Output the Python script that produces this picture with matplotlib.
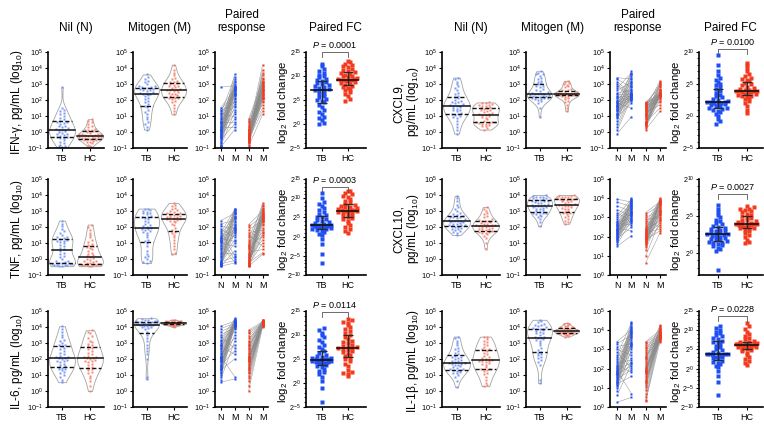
import numpy as np
import matplotlib
matplotlib.use('Agg')
import matplotlib.pyplot as plt
from matplotlib import mlab

plt.rcParams['font.family'] = ['Liberation Sans', 'DejaVu Sans']
plt.rcParams['mathtext.fontset'] = 'custom'
plt.rcParams['mathtext.rm'] = 'Liberation Sans'
plt.rcParams['mathtext.it'] = 'Liberation Sans:italic'
plt.rcParams['mathtext.bf'] = 'Liberation Sans:bold'

# ---- data (log10 pg/mL for nil / mitogen, log2 for fold change) ----
ifng_nil_tb = [-0.95,-0.9,-0.85,-0.8,-0.7,-0.6,-0.5,-0.4,-0.35,-0.3,-0.3,-0.25,-0.2,-0.15,-0.1,-0.05,0.0,0.05,0.1,0.1,
               0.15,0.2,0.25,0.3,0.35,0.4,0.5,0.55,0.6,0.65,0.7,0.8,0.9,1.0,1.1,1.2,1.3,1.4,1.5,2.8]
ifng_mit_tb = [0.15,0.3,0.5,0.65,0.8,0.95,1.1,1.25,1.4,1.55,1.65,1.75,1.85,1.95,2.05,2.15,2.25,2.3,2.35,2.4,
               2.4,2.45,2.5,2.55,2.6,2.65,2.7,2.7,2.75,2.75,2.8,2.8,2.85,2.9,3.0,3.1,3.2,3.3,3.45,3.6]
ifng_nil_hc = [-0.9,-0.8,-0.7,-0.65,-0.6,-0.55,-0.5,-0.5,-0.45,-0.45,-0.4,-0.4,-0.35,-0.35,-0.3,-0.3,-0.3,-0.25,-0.25,
               -0.2,-0.2,-0.15,-0.15,-0.1,-0.1,-0.05,0.0,0.05,0.1,0.1,0.15,0.2,0.3,0.4,0.5,0.6,0.7,0.8]
ifng_mit_hc = [1.1,1.3,1.5,1.7,1.85,1.95,2.05,2.1,2.15,2.15,2.2,2.25,2.3,2.35,2.4,2.45,2.5,2.55,2.6,2.6,
               2.65,2.7,2.75,2.8,2.85,2.9,2.95,3.0,3.05,3.1,3.15,3.2,3.3,3.4,3.55,3.7,3.9,4.2]
ifng_fc_tb = [0.0,0.3,0.8,1.2,1.5,2.0,2.5,3.0,3.5,4.0,4.5,4.8,5.0,5.3,5.6,5.9,6.2,6.5,6.8,7.0,
              7.1,7.3,7.5,7.7,7.9,8.1,8.3,8.5,8.7,8.9,9.1,9.4,9.7,10.0,10.3,10.6,11.0,11.5,12.0,12.6]
ifng_fc_hc = [4.8,5.3,5.8,6.2,6.6,7.0,7.3,7.6,7.8,8.0,8.2,8.4,8.6,8.8,8.9,9.0,9.1,9.2,9.2,9.3,
              9.4,9.5,9.7,9.9,10.1,10.3,10.5,10.7,10.9,11.1,11.3,11.5,11.8,12.0,12.3,12.6,12.9,13.2]

tnf_nil_tb = [-0.45,-0.45,-0.4,-0.4,-0.35,-0.35,-0.3,-0.3,-0.3,-0.25,-0.25,-0.2,-0.15,-0.1,0.0,0.1,0.2,0.3,0.4,0.5,
              0.6,0.7,0.8,0.9,1.0,1.05,1.1,1.15,1.2,1.25,1.3,1.35,1.4,1.5,1.6,1.75,1.9,2.05,2.2,2.4]
tnf_mit_tb = [-0.25,-0.2,-0.1,0.0,0.1,0.2,0.3,0.5,0.8,1.0,1.1,1.2,1.35,1.5,1.6,1.7,1.75,1.8,1.85,1.9,
              1.95,2.0,2.05,2.1,2.2,2.3,2.4,2.5,2.55,2.6,2.65,2.7,2.8,2.85,2.9,2.95,3.0,3.05,3.1,3.15]
tnf_nil_hc = [-0.45,-0.45,-0.4,-0.4,-0.4,-0.35,-0.35,-0.3,-0.3,-0.3,-0.25,-0.25,-0.2,-0.15,-0.1,-0.05,0.0,0.05,0.1,0.2,
              0.25,0.3,0.4,0.5,0.6,0.7,0.75,0.8,0.85,0.95,1.05,1.2,1.35,1.5,1.65,1.8,2.0,2.15]
tnf_mit_hc = [0.3,0.4,0.6,0.8,1.0,1.2,1.4,1.5,1.6,1.7,1.8,1.95,2.1,2.2,2.3,2.35,2.4,2.45,2.5,2.5,
              2.55,2.6,2.6,2.65,2.7,2.75,2.75,2.8,2.85,2.9,2.95,3.0,3.05,3.1,3.2,3.3,3.4,3.5]
tnf_fc_tb = [-7.0,-4.5,-2.0,-0.5,0.3,0.8,1.2,1.5,1.8,2.0,2.1,2.2,2.3,2.4,2.5,2.6,2.7,2.8,2.8,2.9,
             3.0,3.1,3.3,3.5,3.7,4.0,4.3,4.7,5.0,5.2,5.5,6.0,6.5,7.0,7.5,8.0,8.5,9.0,10.0,11.3]
tnf_fc_hc = [1.0,1.5,2.0,2.5,3.0,3.5,4.0,4.5,4.8,5.0,5.3,5.6,5.9,6.1,6.3,6.5,6.6,6.7,6.7,6.8,
             6.9,7.0,7.2,7.4,7.6,7.8,8.0,8.3,8.6,9.0,9.4,9.8,10.2,10.6,11.0,11.4,11.8,12.0]

il6_nil_tb = [0.55,0.7,0.85,1.0,1.1,1.2,1.3,1.35,1.4,1.45,1.5,1.55,1.6,1.7,1.8,1.85,1.9,1.95,2.0,2.05,
              2.05,2.1,2.15,2.2,2.3,2.4,2.5,2.6,2.7,2.8,2.85,2.9,3.0,3.1,3.2,3.35,3.5,3.7,3.9,4.05]
il6_mit_tb = [0.75,0.9,2.0,2.3,2.5,2.7,2.9,3.1,3.3,3.5,3.7,3.85,3.95,4.0,4.02,4.05,4.07,4.1,4.1,4.12,
              4.14,4.15,4.16,4.18,4.2,4.2,4.22,4.24,4.26,4.28,4.3,4.32,4.34,4.36,4.38,4.4,4.42,4.45,4.5,4.55]
il6_nil_hc = [0.0,0.3,0.6,0.8,0.95,1.1,1.2,1.3,1.4,1.45,1.5,1.6,1.7,1.8,1.85,1.9,1.95,2.0,2.05,2.05,
              2.1,2.15,2.2,2.3,2.4,2.5,2.6,2.7,2.8,2.85,2.95,3.05,3.15,3.3,3.45,3.6,3.7,3.8]
il6_mit_hc = [4.0,4.05,4.08,4.1,4.12,4.13,4.14,4.15,4.16,4.17,4.18,4.18,4.19,4.2,4.2,4.21,4.22,4.22,4.23,4.23,
              4.24,4.25,4.25,4.26,4.27,4.28,4.29,4.3,4.31,4.32,4.33,4.34,4.35,4.37,4.39,4.41,4.43,4.45]
il6_fc_tb = [-4.0,-1.0,0.5,1.2,1.8,2.2,2.6,3.0,3.3,3.6,3.8,4.0,4.1,4.2,4.3,4.4,4.5,4.6,4.7,4.8,
             4.9,5.0,5.1,5.2,5.3,5.5,5.7,5.9,6.2,6.6,7.0,7.5,8.0,8.5,9.0,9.5,10.0,10.5,11.0,11.5]
il6_fc_hc = [1.5,1.8,2.0,2.3,2.8,3.5,4.0,4.5,5.0,5.3,5.6,5.9,6.1,6.4,6.6,6.8,7.0,7.2,7.3,7.4,
             7.6,7.8,8.0,8.3,8.5,8.8,9.2,9.6,10.0,10.4,10.8,11.2,11.6,12.0,12.4,12.8,13.1,13.4]

cxcl9_nil_tb = [-0.1,0.1,0.3,0.5,0.7,0.85,0.95,1.0,1.05,1.1,1.15,1.2,1.3,1.35,1.4,1.45,1.5,1.55,1.6,1.65,
                1.65,1.7,1.75,1.8,1.85,1.9,1.95,2.0,2.1,2.2,2.25,2.35,2.45,2.6,2.75,2.9,3.0,3.15,3.3,3.4]
cxcl9_mit_tb = [0.95,1.5,1.8,1.95,2.0,2.05,2.08,2.1,2.12,2.15,2.18,2.2,2.22,2.25,2.27,2.3,2.32,2.35,2.35,2.37,
                2.4,2.45,2.5,2.55,2.6,2.7,2.8,2.85,2.9,3.0,3.05,3.1,3.2,3.3,3.4,3.5,3.6,3.65,3.7,3.8]
cxcl9_nil_hc = [0.15,0.25,0.35,0.4,0.45,0.5,0.5,0.55,0.55,0.6,0.6,0.65,0.7,0.8,0.9,0.95,1.0,1.05,1.05,1.1,
                1.15,1.2,1.25,1.3,1.35,1.4,1.45,1.5,1.5,1.55,1.6,1.65,1.7,1.7,1.75,1.8,1.82,1.85]
cxcl9_mit_hc = [1.3,1.5,1.7,1.85,1.95,2.05,2.15,2.2,2.25,2.28,2.3,2.3,2.32,2.33,2.34,2.35,2.35,2.36,2.36,2.37,
                2.38,2.38,2.4,2.42,2.44,2.46,2.5,2.55,2.6,2.65,2.7,2.8,2.9,2.95,3.0,3.05,3.1,3.2]
cxcl9_fc_tb = [-1.2,-0.8,-0.4,0.0,0.3,0.6,0.8,1.0,1.1,1.2,1.3,1.5,1.6,1.7,1.8,1.9,2.0,2.1,2.15,2.2,
               2.25,2.3,2.5,2.7,2.9,3.1,3.3,3.6,3.9,4.2,4.5,4.8,5.0,5.3,5.6,6.0,6.4,7.0,8.0,9.5]
cxcl9_fc_hc = [0.5,1.0,1.5,2.0,2.3,2.6,2.8,3.0,3.1,3.2,3.3,3.4,3.5,3.6,3.7,3.8,3.85,3.9,3.9,3.95,
               4.0,4.1,4.2,4.4,4.6,4.8,5.0,5.2,5.4,5.6,5.8,6.0,6.3,6.6,7.0,7.5,8.0,8.3]

cxcl10_nil_tb = [1.5,1.6,1.7,1.75,1.8,1.85,1.9,1.95,2.0,2.0,2.05,2.1,2.1,2.15,2.2,2.2,2.25,2.3,2.3,2.35,
                 2.35,2.4,2.4,2.45,2.5,2.55,2.6,2.6,2.65,2.7,2.75,2.8,2.9,3.0,3.1,3.25,3.4,3.6,3.8,3.95]
cxcl10_mit_tb = [2.05,2.3,2.5,2.6,2.7,2.75,2.8,2.85,2.85,2.9,2.95,3.0,3.05,3.1,3.15,3.2,3.25,3.25,3.3,3.3,
                 3.3,3.35,3.4,3.45,3.5,3.5,3.55,3.6,3.6,3.65,3.7,3.7,3.75,3.8,3.8,3.85,3.9,3.9,3.95,4.0]
cxcl10_nil_hc = [0.65,1.0,1.3,1.45,1.55,1.6,1.65,1.7,1.7,1.75,1.8,1.85,1.9,1.9,1.95,2.0,2.0,2.05,2.05,2.1,
                 2.1,2.15,2.2,2.2,2.25,2.3,2.35,2.35,2.4,2.45,2.5,2.6,2.7,2.8,2.9,3.0,3.15,3.25]
cxcl10_mit_hc = [2.2,2.3,2.4,2.5,2.6,2.7,2.8,2.85,2.9,2.95,3.0,3.1,3.15,3.2,3.25,3.3,3.3,3.35,3.35,3.4,
                 3.45,3.5,3.55,3.6,3.65,3.7,3.7,3.72,3.75,3.78,3.8,3.82,3.85,3.88,3.9,3.93,3.96,4.0]
cxcl10_fc_tb = [-2.3,0.3,0.5,0.7,0.9,1.1,1.2,1.3,1.4,1.5,1.6,1.7,1.8,1.9,2.0,2.1,2.2,2.3,2.4,2.5,
                2.5,2.6,2.7,2.8,2.9,3.0,3.1,3.2,3.3,3.5,3.7,3.9,4.1,4.3,4.5,4.8,5.1,5.5,6.0,6.5]
cxcl10_fc_hc = [1.3,1.5,1.8,2.1,2.4,2.7,2.9,3.1,3.2,3.3,3.4,3.5,3.6,3.7,3.75,3.8,3.85,3.9,3.9,3.95,
                4.0,4.1,4.2,4.3,4.4,4.5,4.7,4.9,5.0,5.1,5.3,5.5,5.6,5.8,5.9,6.0,6.2,6.4]

il1b_nil_tb = [0.25,0.6,0.85,1.0,1.1,1.15,1.2,1.25,1.3,1.3,1.35,1.4,1.45,1.5,1.55,1.6,1.65,1.7,1.7,1.75,
               1.75,1.8,1.85,1.9,1.95,2.0,2.05,2.1,2.15,2.2,2.3,2.4,2.5,2.6,2.7,2.85,3.0,3.15,3.3,3.4]
il1b_mit_tb = [0.5,0.7,1.6,1.8,1.95,2.05,2.15,2.25,2.3,2.35,2.45,2.55,2.7,2.85,3.0,3.1,3.2,3.25,3.3,3.3,
               3.35,3.4,3.5,3.6,3.65,3.7,3.75,3.8,3.85,3.9,3.9,3.95,4.0,4.05,4.1,4.15,4.2,4.3,4.4,4.45]
il1b_nil_hc = [0.3,0.35,0.5,0.7,0.9,1.05,1.15,1.25,1.3,1.35,1.4,1.5,1.6,1.7,1.75,1.8,1.85,1.9,1.9,1.95,
               2.0,2.05,2.1,2.2,2.3,2.4,2.5,2.55,2.6,2.65,2.75,2.85,2.95,3.05,3.15,3.25,3.35,3.4]
il1b_mit_hc = [3.4,3.45,3.5,3.52,3.55,3.57,3.6,3.6,3.62,3.64,3.66,3.68,3.7,3.71,3.72,3.73,3.74,3.75,3.75,3.76,
               3.77,3.78,3.8,3.82,3.84,3.86,3.88,3.9,3.92,3.95,3.98,4.0,4.05,4.08,4.12,4.16,4.2,4.25]
il1b_fc_tb = [-7.0,-3.5,-2.0,-0.5,0.3,0.8,1.2,1.5,1.8,2.1,2.4,2.7,2.9,3.1,3.3,3.5,3.6,3.7,3.8,3.8,
              3.9,4.1,4.4,4.8,5.2,5.6,6.0,6.4,6.7,7.0,7.3,7.6,8.0,8.4,8.8,9.2,9.6,10.0,10.5,11.0]
il1b_fc_hc = [1.0,1.5,2.0,2.5,3.0,3.5,4.0,4.5,4.8,5.0,5.2,5.4,5.6,5.7,5.8,5.9,6.0,6.05,6.1,6.1,
              6.15,6.2,6.3,6.4,6.5,6.6,6.7,6.8,7.0,7.3,7.6,8.0,8.5,9.0,9.6,10.3,11.0,12.0]

p_values = ['0.0001', '0.0003', '0.0114', '0.0100', '0.0027', '0.0228']

# ---- layout (pixels) ----
W, H = 764, 429
col_left = [48, 133, 215, 306, 442, 526, 610, 699]
col_xlim = [(-0.5, 1.5), (-0.5, 1.5), (-0.4, 3.4), (-0.6, 1.7),
            (-0.5, 1.5), (-0.5, 1.5), (-0.5, 3.4), (-0.65, 1.55)]
col_unit = [28, 27, 14, 26, 29, 27, 14.3, 29]
row_top = [52, 179, 311]
AX_H = 96

TB_LIGHT, HC_LIGHT = '#6d8ff3', '#f47c6a'
TB_DARK, HC_DARK = '#1f4ff2', '#f33a1e'

fig = plt.figure(figsize=(W / 100, H / 100), dpi=100)


def make_ax(ci, ri):
    lo, hi = col_xlim[ci]
    w = (hi - lo) * col_unit[ci]
    ax = fig.add_axes([col_left[ci] / W, 1 - (row_top[ri] + AX_H) / H, w / W, AX_H / H])
    ax.set_xlim(lo, hi)
    for s in ('top', 'right'):
        ax.spines[s].set_visible(False)
    for s in ('left', 'bottom'):
        ax.spines[s].set_linewidth(1.2)
    ax.tick_params(axis='y', length=2.5, width=0.8, labelsize=5.2, pad=1)
    ax.tick_params(axis='x', length=2, width=0.8, labelsize=6.5, pad=2)
    ax.tick_params(which='minor', length=1.3, width=0.6)
    return ax


def px_units(ax):
    lo, hi = ax.get_xlim()
    y0, y1 = ax.get_ylim()
    bb = ax.get_position()
    return (hi - lo) / (bb.width * W), (y1 - y0) / (bb.height * H)


def swarm(ax, vals, pos, step_x, step_y, halfw):
    # simple beeswarm: bin by y, spread each bin sideways, squeeze to fit halfw
    ux, uy = px_units(ax)
    dx, dy = step_x * ux, step_y * uy
    xs = np.full(len(vals), float(pos))
    bins = np.round(vals / dy).astype(int)
    for b in np.unique(bins):
        idx = np.where(bins == b)[0]
        idx = idx[np.argsort(vals[idx])]
        n = len(idx)
        if n < 2:
            continue
        hw = max(halfw(b * dy) - 0.5 * dx, 0.5 * dx)
        step = min(dx, 2 * hw / (n - 1))
        offs = (np.arange(n) - (n - 1) / 2) * step
        # interleave so neighbours in value are not neighbours in x
        order = np.argsort(np.abs(offs), kind='stable')
        xs[idx] = pos + offs[order]
    return xs


def log10_axis(ax, ylim):
    ax.set_ylim(*ylim)
    ks = list(range(ylim[0], ylim[1] + 1))
    ax.set_yticks(ks)
    ax.set_yticklabels([r'$10^{%d}$' % k for k in ks])


def violin_panel(ax, tb, hc):
    log10_axis(ax, (-1, 5))
    for pos, vals, c in ((0, tb, TB_LIGHT), (1, hc, HC_LIGHT)):
        vals = np.asarray(vals, float)
        ys = np.linspace(vals.min(), vals.max(), 200)
        dens = mlab.GaussianKDE(vals).evaluate(ys)
        dens = dens / dens.max() * 0.46
        ax.fill_betweenx(ys, pos - dens, pos + dens, facecolor='white',
                         edgecolor='#a3a3a3', lw=0.6, zorder=1)
        xs = swarm(ax, vals, pos, 3.2, 3.0, lambda y: np.interp(y, ys, dens))
        ax.plot(xs, vals, 's', ms=2.0, color=c, mec='none', alpha=0.9, zorder=2)
        q1, med, q3 = np.percentile(vals, [25, 50, 75])
        for q, dashed in ((q1, True), (med, False), (q3, True)):
            w = np.interp(q, ys, dens)
            line, = ax.plot([pos - w, pos + w], [q, q], color='#111111',
                            lw=1.1 if not dashed else 1.0, zorder=3)
            if dashed:
                line.set_dashes((3, 1.6))
    ax.set_xticks([0, 1])
    ax.set_xticklabels(['TB', 'HC'])


def paired_panel(ax, n_tb, m_tb, n_hc, m_hc, ylim):
    log10_axis(ax, ylim)
    for xa, xb, nv, mv, c in ((0, 1, n_tb, m_tb, TB_DARK), (2, 3, n_hc, m_hc, HC_DARK)):
        n = min(len(nv), len(mv))
        nv = np.asarray(nv[:n], float)
        mv = np.asarray(mv[:n], float)[(np.arange(n) * 7) % n]
        for a, b in zip(nv, mv):
            ax.plot([xa, xb], [a, b], color='#8a8a8a', lw=0.38, alpha=0.85, zorder=1)
        ax.plot(np.full(n, xa), nv, 's', ms=2.0, color=c, mec='none', zorder=2, clip_on=False)
        ax.plot(np.full(n, xb), mv, 's', ms=2.0, color=c, mec='none', zorder=2, clip_on=False)
    ax.set_xticks([0, 1, 2, 3])
    ax.set_xticklabels(['N', 'M', 'N', 'M'])


def fc_panel(ax, tb, hc, ylim, pval, bracket_y):
    ax.set_ylim(*ylim)
    ks = [k for k in range(-10, 16, 5) if ylim[0] <= k <= ylim[1]]
    ax.set_yticks(ks)
    ax.set_yticklabels([r'$2^{%d}$' % k for k in ks])
    ax.set_yticks(np.arange(ylim[0], ylim[1] + 1), minor=True)
    for pos, vals, c in ((0, tb, TB_DARK), (1, hc, HC_DARK)):
        vals = np.asarray(vals, float)
        xs = swarm(ax, vals, pos, 4.6, 3.4, lambda y: 0.44)
        ax.plot(xs, vals, 's', ms=2.2, color=c, mec='none', zorder=2)
        q1, med, q3 = np.percentile(vals, [25, 50, 75])
        ax.errorbar(pos, med, yerr=[[med - q1], [q3 - med]], fmt='none', ecolor='#2a2a2a',
                    elinewidth=0.9, capsize=3.5, capthick=0.9, zorder=3)
        ax.plot([pos - 0.4, pos + 0.4], [med, med], color='#111111', lw=1.2, zorder=4)
    ux, uy = px_units(ax)
    tick = 5 * uy
    ax.plot([0, 0, 1, 1], [bracket_y - tick, bracket_y, bracket_y, bracket_y - tick],
            color='#555555', lw=0.6, clip_on=False)
    ax.text(0.5, bracket_y + 1.5 * uy, r'$P$ = ' + pval, ha='center', va='bottom',
            fontsize=6.5, clip_on=False)
    ax.set_xticks([0, 1])
    ax.set_xticklabels(['TB', 'HC'])


panels = [
    # group, row, label, nil tb, mit tb, nil hc, mit hc, fc tb, fc hc, paired ylim, fc ylim, bracket
    (0, 0, 'IFN-γ, pg/mL (log$_{10}$)', ifng_nil_tb, ifng_mit_tb, ifng_nil_hc, ifng_mit_hc,
     ifng_fc_tb, ifng_fc_hc, (-1, 5), (-5, 15), 15.0),
    (0, 1, 'TNF, pg/mL (log$_{10}$)', tnf_nil_tb, tnf_mit_tb, tnf_nil_hc, tnf_mit_hc,
     tnf_fc_tb, tnf_fc_hc, (-1, 5), (-10, 15), 13.0),
    (0, 2, 'IL-6, pg/mL (log$_{10}$)', il6_nil_tb, il6_mit_tb, il6_nil_hc, il6_mit_hc,
     il6_fc_tb, il6_fc_hc, (-1, 5), (-5, 15), 14.8),
    (1, 0, 'CXCL9,\npg/mL (log$_{10}$)', cxcl9_nil_tb, cxcl9_mit_tb, cxcl9_nil_hc, cxcl9_mit_hc,
     cxcl9_fc_tb, cxcl9_fc_hc, (-1, 5), (-5, 10), 10.5),
    (1, 1, 'CXCL10,\npg/mL (log$_{10}$)', cxcl10_nil_tb, cxcl10_mit_tb, cxcl10_nil_hc, cxcl10_mit_hc,
     cxcl10_fc_tb, cxcl10_fc_hc, (0, 5), (-3, 10), 8.0),
    (1, 2, 'IL-1β, pg/mL (log$_{10}$)', il1b_nil_tb, il1b_mit_tb, il1b_nil_hc, il1b_mit_hc,
     il1b_fc_tb, il1b_fc_hc, (0, 5), (-10, 15), 13.7),
]

titles = ['Nil (N)', 'Mitogen (M)', 'Paired\nresponse', 'Paired FC']

for i, (g, r, label, ntb, mtb, nhc, mhc, ftb, fhc, pylim, fylim, by) in enumerate(panels):
    c0 = 4 * g
    ax1 = make_ax(c0, r)
    violin_panel(ax1, ntb, nhc)
    ax2 = make_ax(c0 + 1, r)
    violin_panel(ax2, mtb, mhc)
    ax3 = make_ax(c0 + 2, r)
    paired_panel(ax3, ntb, mtb, nhc, mhc, pylim)
    ax4 = make_ax(c0 + 3, r)
    fc_panel(ax4, ftb, fhc, fylim, p_values[i], by)
    if r == 0:
        for ax, t in zip((ax1, ax2, ax3, ax4), titles):
            ax.set_title(t, fontsize=8.5, pad=15, linespacing=1.1)
    yc = 1 - (row_top[r] + AX_H / 2 + 2) / H
    lx = 17 if g == 0 else (407 if '\n' in label else 413)
    fig.text(lx / W, yc, label, rotation=90, ha='center', va='center',
             fontsize=8.5, multialignment='center', linespacing=1.0)
    fig.text((col_left[c0 + 3] - 23) / W, yc, 'log$_2$ fold change', rotation=90,
             ha='center', va='center', fontsize=8.2)

fig.savefig('out.png', dpi=100)
